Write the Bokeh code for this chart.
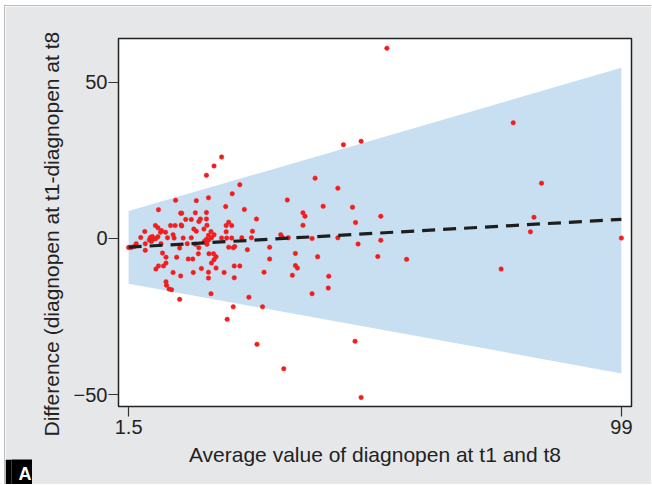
from bokeh.plotting import figure
from bokeh.models import Range1d, FixedTicker
from bokeh.layouts import column
from bokeh.core.properties import value
from bokeh.embed import file_html
from bokeh.resources import INLINE

# ---- data ----
mean_vals = [
    10.8, 7.4, 11.8, 4.7, 6.8, 7.3, 9.8, 10.7, 11.9, 7.8, 8.8, 10.3, 5.8, 6.2, 6.5, 5.6, 6.0, 6.9, 7.3, 3.9,
    3.0, 1.5, 2.0, 2.6, 4.8, 4.8, 7.9, 8.2, 8.9, 8.9, 8.4, 7.4, 6.9, 10.3, 11.8, 8.9, 9.0, 9.5, 10.0, 11.6,
    13.1, 9.2, 10.5, 12.3, 11.6, 12.0, 12.0, 11.0, 8.0,
    19.9, 18.4, 16.9, 23.5, 22.0, 17.3, 14.9, 20.7, 24.4, 14.7, 16.9, 12.8, 13.9, 15.7, 16.9, 15.4, 21.3, 17.0,
    20.8, 21.9, 14.4, 14.9, 16.4, 17.8, 20.8, 18.4, 17.3, 13.9, 17.9, 16.9, 17.3, 16.5, 19.9, 20.9, 21.9, 23.9,
    25.8, 14.7, 17.0, 15.4, 21.3, 22.2, 22.5, 25.0, 15.3, 17.4, 18.3, 18.8, 13.3, 14.2, 18.4, 17.9, 22.4, 23.5,
    15.9, 18.8, 14.3, 17.3, 20.4, 17.3, 22.4, 17.8, 25.3,
    38.4, 32.9, 40.0, 26.8, 36.0, 36.4, 36.0, 26.0, 31.6, 31.9, 33.1, 37.8, 29.4, 29.4, 34.5, 38.9, 34.5, 34.9,
    28.3, 33.9, 41.1, 41.0, 37.8,
    42.9, 45.8, 46.4, 51.4, 42.9, 46.9, 51.4, 50.8, 56.5,
    52.6, 77.6, 44.0, 47.5, 83.2, 81.7, 81.0, 99.0, 75.2, 46.3, 26.9, 32.2, 47.5, 21.0, 22.2, 28.0,
]
diff_vals = [
    12.2, 9.2, 8.1, 2.2, 4.1, 3.4, 4.1, 4.1, 4.3, 2.0, 2.0, 1.2, 0.3, 0.6, -0.2, -0.5, -1.0, 0.0, 0.5, 0.3,
    -1.7, -2.9, -2.9, -2.6, -1.7, -3.8, -1.7, -4.7, -6.0, -7.9, -8.8, -8.8, -9.8, -10.9, -12.0, -13.9, -15.0, -16.2, -16.4, -19.5,
    -1.7, 0.2, 0.1, 0.1, -3.1, 8.1, 4.0, -6.0, 2.5,
    26.1, 23.2, 20.2, 17.2, 14.3, 13.0, 12.1, 10.2, 9.3, 8.2, 8.3, 6.1, 6.1, 6.2, 6.2, 5.4, 5.2, 4.2,
    4.1, 4.1, 3.0, 2.3, 3.0, 2.2, 2.1, 1.2, 1.0, 0.2, 0.2, -0.3, -0.6, -0.9, 0.1, 0.1, 0.1, 0.2,
    0.2, -1.9, -1.9, -3.0, -2.8, -3.0, -2.6, -3.6, -4.9, -4.9, -4.9, -5.9, -6.6, -6.6, -6.8, -7.9, -8.8, -8.8,
    -9.6, -9.5, -10.9, -10.8, -10.9, -12.7, -12.6, -17.7, -18.8,
    19.3, 12.3, 10.3, 6.2, 8.2, 7.1, 4.2, 2.3, 1.2, 0.4, 0.2, 0.0, -2.8, -6.6, -4.8, -5.9, -8.7, -9.5,
    -10.8, -11.8, -12.1, -15.9, -17.7,
    16.1, 10.0, 5.1, 7.1, 0.2, -1.8, -0.6, -5.8, -6.7,
    60.9, 37.0, 30.0, 31.1, 17.7, 6.8, 2.1, 0.1, -9.8, -32.9, -33.9, -41.7, -50.9, -25.9, -21.9, -21.9,
]

band_x = [1.5, 99]
band_upper = [8.75, 54.6]
band_lower = [-14.5, -43.2]
trend_x = [1.5, 99]
trend_y = [-2.8, 6.1]

x_ticks = [1.5, 99]
x_tick_labels = {1.5: "1.5", 99: "99"}
y_ticks = [-50, 0, 50]
y_tick_labels = {-50: "\u221250", 0: "0", 50: "50"}

x_title = "Average value of diagnopen at t1 and t8"
y_title = "Difference (diagnopen at t1-diagnopen at t8"
panel_tag = "A"

FONT = "Liberation Sans"
BG = "#e6e7e9"

p = figure(width=647, height=479, output_backend="svg", toolbar_location=None,
           x_range=Range1d(-0.5, 101.0), y_range=Range1d(-53.8, 64.0),
           min_border_left=113, min_border_right=21, min_border_top=32, min_border_bottom=79)
p.styles = {"margin-left": "4px", "margin-top": "5px",
            "border-left": "1px solid #b9babc", "border-top": "1px solid #b9babc"}

p.background_fill_color = "white"
p.border_fill_color = BG
p.outline_line_color = "#222222"
p.outline_line_width = 1.5
p.grid.visible = False

p.varea(x=band_x, y1=band_lower, y2=band_upper, fill_color="#c8dff2", fill_alpha=1.0)
p.scatter(mean_vals, diff_vals, size=4.5, fill_color="#f21d1d", line_color="#f21d1d", line_width=0.5)
p.line(trend_x, trend_y, line_color="#1e1e1e", line_width=3.2, line_dash="13 8")

for ax in (p.xaxis[0], p.yaxis[0]):
    ax.axis_line_color = None
    ax.major_tick_line_color = "#333333"
    ax.major_tick_line_width = 1.2
    ax.major_tick_out = 10
    ax.major_tick_in = 0
    ax.minor_tick_line_color = None
    ax.major_label_text_font = FONT
    ax.major_label_text_font_size = "20px"
    ax.major_label_text_color = "#222222"
    ax.axis_label_text_font = FONT
    ax.axis_label_text_font_size = "21px"
    ax.axis_label_text_font_style = "normal"
    ax.axis_label_text_color = "#222222"

p.xaxis[0].ticker = FixedTicker(ticks=x_ticks)
p.xaxis[0].major_label_overrides = x_tick_labels
p.xaxis[0].major_label_standoff = 3
p.xaxis[0].axis_label = x_title
p.xaxis[0].axis_label_standoff = 6

p.yaxis[0].ticker = FixedTicker(ticks=y_ticks)
p.yaxis[0].major_label_overrides = y_tick_labels
p.yaxis[0].major_label_standoff = 1
p.yaxis[0].major_label_orientation = "horizontal"
# trailing no-break spaces shift the centred title downwards, as in the reference
p.yaxis[0].axis_label = y_title + "\u00a0" * 4
p.yaxis[0].axis_label_standoff = 8

# small black panel tag "A" overlapping the bottom-left corner
tag = figure(width=27, height=25, output_backend="svg", toolbar_location=None,
             title=None, x_axis_location=None, y_axis_location=None,
             x_range=Range1d(0, 1), y_range=Range1d(0, 1),
             min_border=0, min_border_left=0, min_border_right=0,
             min_border_top=0, min_border_bottom=0)
tag.styles = {"margin-left": "5px", "margin-top": "-25px"}
tag.grid.visible = False
tag.outline_line_color = None
tag.background_fill_color = "black"
tag.border_fill_color = "black"
# anchored at the frame's top-left corner, placed with pixel offsets
tag.text(x=[0], y=[1], text=[panel_tag], text_color="white",
         text_font=value(FONT), text_font_size="18px", text_font_style="bold",
         text_align="left", text_baseline="top", x_offset=7, y_offset=4)

layout = column(p, tag)
open("out.html", "w").write(file_html(layout, INLINE))
